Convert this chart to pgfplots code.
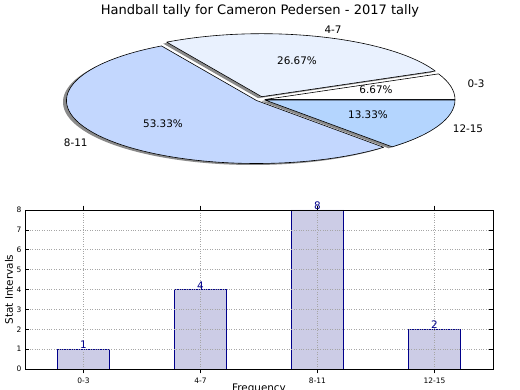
\documentclass[border=0pt]{standalone}
\usepackage{pgfplots}
\pgfplotsset{compat=1.18}
\usepackage{pgfplotstable}
\usepackage{fontspec}
\setmainfont{DejaVu Sans}

\definecolor{cA}{HTML}{FFFFFF}
\definecolor{cB}{HTML}{E9F1FE}
\definecolor{cC}{HTML}{C3D7FE}
\definecolor{cD}{HTML}{B4D5FE}
\definecolor{barfill}{HTML}{CCCCE6}
\definecolor{baredge}{HTML}{00008B}
\definecolor{shadowgray}{HTML}{8A8A8A}

\pgfplotstableread{
idx label count
0 0-3 1
1 4-7 4
2 8-11 8
3 12-15 2
}\tally

\pgfplotstablegetelem{0}{count}\of\tally \let\vA\pgfplotsretval
\pgfplotstablegetelem{1}{count}\of\tally \let\vB\pgfplotsretval
\pgfplotstablegetelem{2}{count}\of\tally \let\vC\pgfplotsretval
\pgfplotstablegetelem{3}{count}\of\tally \let\vD\pgfplotsretval
\pgfmathsetmacro\tot{\vA+\vB+\vC+\vD}
\pgfmathsetmacro\aA{0}
\pgfmathsetmacro\aB{360*\vA/\tot}
\pgfmathsetmacro\aC{360*(\vA+\vB)/\tot}
\pgfmathsetmacro\aD{360*(\vA+\vB+\vC)/\tot}
\pgfmathsetmacro\aE{360}

% wedge: shiftx, shifty, start, end, fill
\newcommand\piewedge[5]{%
  \filldraw[fill=#5, draw=black, line width=0.6pt, line join=round]
    ([shift={(#1,#2)}]axis cs:0,0) -- ++(#3:190pt and 63pt)
    arc[start angle=#3, end angle=#4, x radius=190pt, y radius=63pt] -- cycle;}
\newcommand\pieshadow[4]{%
  \fill[shadowgray]
    ([shift={(#1-3.5pt,#2-1.5pt)}]axis cs:0,0) -- ++(#3:190pt and 63pt)
    arc[start angle=#3, end angle=#4, x radius=190pt, y radius=63pt] -- cycle;}

\begin{document}
\begin{tikzpicture}
% ---------- pie ----------
\begin{axis}[at={(265pt,290.5pt)}, anchor=origin, hide axis, scale only axis,
  width=570pt, height=189pt, xmin=-1.5, xmax=1.5, ymin=-1.5, ymax=1.5, clip=false]
\addplot[draw=none] coordinates {(0,0)};
\pieshadow{0pt}{0pt}{\aA}{\aB}
\pieshadow{-3.3pt}{2.8pt}{\aB}{\aC}
\pieshadow{-8.5pt}{-1pt}{\aC}{\aD}
\pieshadow{0pt}{-0.5pt}{\aD}{\aE}
\piewedge{0pt}{0pt}{\aA}{\aB}{cA}
\piewedge{-3.3pt}{2.8pt}{\aB}{\aC}{cB}
\piewedge{-8.5pt}{-1pt}{\aC}{\aD}{cC}
\piewedge{0pt}{-0.5pt}{\aD}{\aE}{cD}
\end{axis}

\node[font=\fontsize{13.05}{15}\selectfont] at (260pt,379.5pt) {Handball tally for Cameron Pedersen - 2017 tally};
\begin{scope}[every node/.style={font=\fontsize{10.4}{12}\selectfont, inner sep=0pt}]
\node at (333pt,360pt) {4-7};
\node at (476pt,306pt) {0-3};
\node at (468pt,261.7pt) {12-15};
\node at (75.7pt,247.7pt) {8-11};
\node at (297pt,329.3pt) {26.67\%};
\node at (376pt,300pt) {6.67\%};
\node at (368pt,275pt) {13.33\%};
\node at (163pt,266.7pt) {53.33\%};
\end{scope}

% ---------- bars ----------
\begin{axis}[at={(25pt,21pt)}, anchor=south west, scale only axis,
  width=468pt, height=159pt,
  xmin=-0.5, xmax=3.5, ymin=0, ymax=8,
  ybar, bar width=0.45,
  xtick={0,1,2,3}, xticklabels={0-3,4-7,8-11,12-15},
  ytick={0,1,...,8},
  /pgf/number format/assume math mode=true,
  tick label style={font=\fontsize{7.5}{9}\selectfont},
  xticklabel style={yshift=-0.8pt},
  grid=major, grid style={dotted, black!35, line width=0.7pt},
  axis on top, axis line style={line width=0.8pt},
  major tick style={black, line width=0.6pt},
  clip=false,
  xlabel={Frequency}, ylabel={Stat Intervals},
  every axis x label/.style={at={(axis description cs:0.5,-0.0943)}, anchor=north, inner sep=0pt, font=\fontsize{10.4}{12}\selectfont},
  every axis y label/.style={at={(axis description cs:-0.0342,0.5)}, rotate=90, anchor=center, inner sep=0pt, font=\fontsize{10.4}{12}\selectfont},
  nodes near coords,
  nodes near coords style={anchor=south, inner sep=0pt, font=\fontsize{10.4}{12}\selectfont, text=baredge},
]
\addplot[fill=barfill, draw=baredge, line width=0.7pt] table[x=idx, y=count]{\tally};
\end{axis}

\pgfresetboundingbox
\path[use as bounding box] (0pt,0pt) rectangle (520pt,390pt);
\end{tikzpicture}
\end{document}
